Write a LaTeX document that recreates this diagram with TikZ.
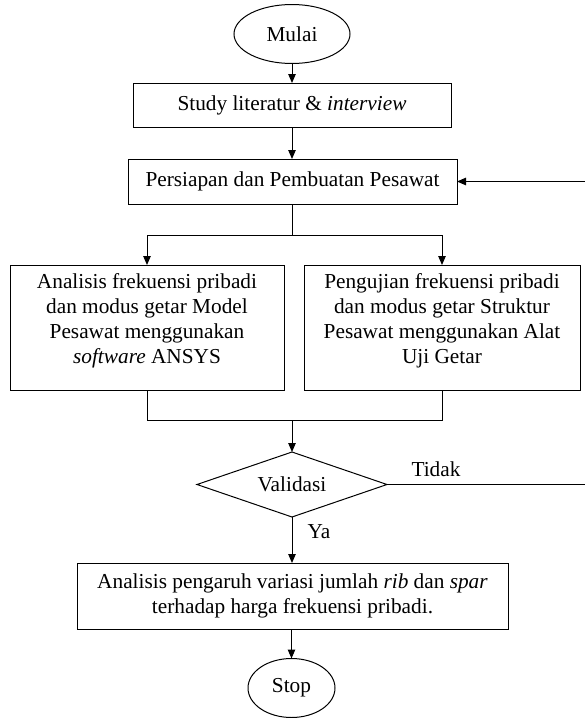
\documentclass[tikz,border=0pt]{standalone}
\usepackage{fontspec}
\setmainfont{Liberation Serif}
\usetikzlibrary{shapes.geometric,arrows.meta}
\begin{document}
\begin{tikzpicture}[x=1pt,y=-1pt,
  font=\fontsize{21.3pt}{25pt}\selectfont,
  every node/.style={inner sep=0pt, outer sep=0pt},
  boxnode/.style={draw, line width=1pt, rectangle, align=center},
  boxtext/.style={align=center},
  term/.style={draw, line width=1pt, ellipse},
  decide/.style={draw, line width=1pt, diamond, shape aspect=2.92, minimum width=190pt, minimum height=65pt},
  conn/.style={line width=1pt},
  arr/.style={conn, -{Triangle[length=9pt,width=7.5pt]}}]
\useasboundingbox (0,0) rectangle (585,718);
\node[term, minimum width=116pt, minimum height=59pt] (mulai) at (292,34) {Mulai};
\node[boxnode, minimum width=318pt, minimum height=44pt] (study) at (292,105) {Study literatur \& \textit{interview}};
\node[boxnode, minimum width=329pt, minimum height=45pt] (pers) at (292.5,181.5) {Persiapan dan Pembuatan Pesawat};
\node[boxnode, minimum width=274pt, minimum height=125pt] (ansys) at (147,327.5) {};
\node[boxtext] (ansystext) at (147,321) {Analisis frekuensi pribadi\\dan modus getar Model\\Pesawat menggunakan\\\textit{software} ANSYS};
\node[boxnode, minimum width=276pt, minimum height=125pt] (uji) at (442,327.5) {};
\node[boxtext] (ujitext) at (442,321) {Pengujian frekuensi pribadi\\dan modus getar Struktur\\Pesawat menggunakan Alat\\Uji Getar};
\node[decide] (val) at (292,484.5) {Validasi};
\node[boxnode, minimum width=431pt, minimum height=66pt] (anal) at (292.5,596) {Analisis pengaruh variasi jumlah \textit{rib} dan \textit{spar}\\terhadap harga frekuensi pribadi.};
\node[term, minimum width=87pt, minimum height=59pt] (stop) at (291.5,688) {Stop};
\coordinate (split) at (292,235);
\coordinate (merge) at (292,420);
\coordinate (fb) at (588,484.5);
\draw[arr] (mulai) -- (study);
\draw[arr] (study) -- (study |- pers.north);
\draw[conn] (pers.south -| split) -- (split);
\draw[arr] (split) -| (ansys.north);
\draw[arr] (split) -| (uji.north);
\draw[conn] (ansys.south) |- (merge);
\draw[conn] (uji.south) |- (merge);
\draw[arr] (merge) -- (val.north);
\draw[arr] (val.south) -- (val.south |- anal.north);
\draw[arr] (anal.south -| stop) -- (stop.north);
\draw[arr] (val.east) -- (fb) |- (pers.east);
\node (tidak) at (436,469) {Tidak};
\node (ya) at (319,532) {Ya};
\end{tikzpicture}
\end{document}
